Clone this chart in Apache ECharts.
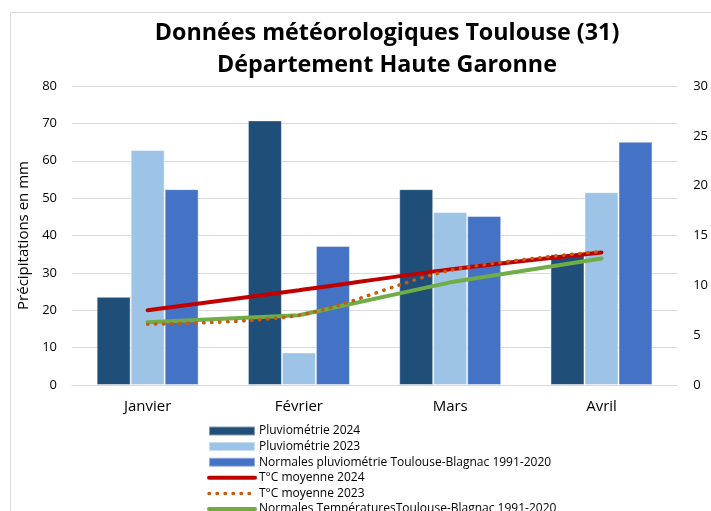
<!DOCTYPE html>
<html>
<head>
<meta charset="utf-8">
<script src="https://cdn.jsdelivr.net/npm/echarts@6/dist/echarts.min.js"></script>
<style>
  html, body { margin: 0; padding: 0; background: #fff; }
  #chart { width: 711px; height: 511px; }
</style>
</head>
<body>
<div id="chart"></div>
<script>
const categories = ['Janvier', 'Février', 'Mars', 'Avril']
const pluvio2024 = [23.6, 70.8, 52.4, 35.0]
const pluvio2023 = [62.9, 8.7, 46.3, 51.6]
const normalesPluvio = [52.4, 37.2, 45.2, 65.1]
const temp2024 = [7.5, 9.5, 11.6, 13.3]
const temp2023 = [6.1, 7.0, 11.5, 13.4]
const normalesTemp = [6.3, 7.0, 10.3, 12.7]

const font = '"Open Sans", Lato, sans-serif'

let myChart = echarts.init(document.getElementById('chart'))

// bars share the same thin pale outline as in the spreadsheet chart
function bar (name, data, color) {
  return {
    name: name,
    type: 'bar',
    data: data,
    barWidth: 34,
    barGap: '0%',
    itemStyle: { color: color, borderColor: 'rgba(255,255,255,0.45)', borderWidth: 1 }
  }
}

function line (name, data, color, dotted, smooth, z) {
  return {
    name: name,
    type: 'line',
    yAxisIndex: 1,
    data: data,
    symbol: 'none',
    smooth: smooth,
    lineStyle: dotted
      ? { color: color, width: 3.5, type: [0.5, 7.5], cap: 'round' }
      : { color: color, width: 4, type: 'solid', cap: 'round' },
    itemStyle: { color: color },
    z: z
  }
}

const hideSymbol = { opacity: 0 }

myChart.setOption({
  animation: false,
  textStyle: { fontFamily: font },
  title: {
    text: 'Données météorologiques Toulouse (31)\nDépartement Haute Garonne',
    left: 387,
    top: 18,
    padding: 0,
    textAlign: 'center',
    textStyle: { fontFamily: font, fontSize: 23.3, fontWeight: 'bold', color: '#000', lineHeight: 31.5 }
  },
  graphic: [
    {
      type: 'rect',
      shape: { x: 10.5, y: 12.5, width: 740, height: 540 },
      style: { fill: 'none', stroke: '#d9d9d9', lineWidth: 1 },
      silent: true
    }
  ],
  legend: {
    orient: 'vertical',
    left: 207,
    top: 424,
    height: 200,
    padding: 0,
    itemWidth: 46,
    itemHeight: 9,
    itemGap: 1.6,
    textStyle: { fontFamily: font, fontSize: 12, color: '#000', lineHeight: 14, padding: [0, 0, 0, -1] },
    data: [
      { name: 'Pluviométrie 2024', icon: 'rect' },
      { name: 'Pluviométrie 2023', icon: 'rect' },
      { name: 'Normales pluviométrie Toulouse-Blagnac 1991-2020', icon: 'rect' },
      { name: 'T°C moyenne 2024', itemStyle: hideSymbol, lineStyle: { width: 4 } },
      { name: 'T°C moyenne 2023', itemStyle: hideSymbol, lineStyle: { width: 3.5 } },
      { name: 'Normales TempératuresToulouse-Blagnac 1991-2020', itemStyle: hideSymbol, lineStyle: { width: 4 } }
    ]
  },
  grid: { left: 72, right: 30, top: 86, bottom: 126 },
  xAxis: {
    type: 'category',
    data: categories,
    axisLine: { lineStyle: { color: '#d9d9d9', width: 1 } },
    axisTick: { show: false },
    axisLabel: { fontFamily: font, fontSize: 15, color: '#000', margin: 14 }
  },
  yAxis: [
    {
      type: 'value',
      min: 0,
      max: 80,
      interval: 10,
      name: 'Précipitations en mm',
      nameLocation: 'middle',
      nameRotate: 90,
      nameGap: 36,
      nameTextStyle: { fontFamily: font, fontSize: 15, color: '#000' },
      axisLine: { show: false },
      axisTick: { show: false },
      axisLabel: { fontFamily: font, fontSize: 13, color: '#000', margin: 15 },
      splitLine: { lineStyle: { color: '#d9d9d9', width: 1 } }
    },
    {
      type: 'value',
      min: 0,
      max: 30,
      interval: 5,
      position: 'right',
      axisLine: { show: false },
      axisTick: { show: false },
      axisLabel: { fontFamily: font, fontSize: 13, color: '#000', margin: 16 },
      splitLine: { show: false }
    }
  ],
  series: [
    bar('Pluviométrie 2024', pluvio2024, '#1f4e79'),
    bar('Pluviométrie 2023', pluvio2023, '#9dc3e6'),
    bar('Normales pluviométrie Toulouse-Blagnac 1991-2020', normalesPluvio, '#4472c4'),
    line('T°C moyenne 2024', temp2024, '#c00000', false, 0.3, 5),
    line('T°C moyenne 2023', temp2023, '#c55a11', true, 0.3, 7),
    line('Normales TempératuresToulouse-Blagnac 1991-2020', normalesTemp, '#70ad47', false, false, 6)
  ]
})
</script>
</body>
</html>
